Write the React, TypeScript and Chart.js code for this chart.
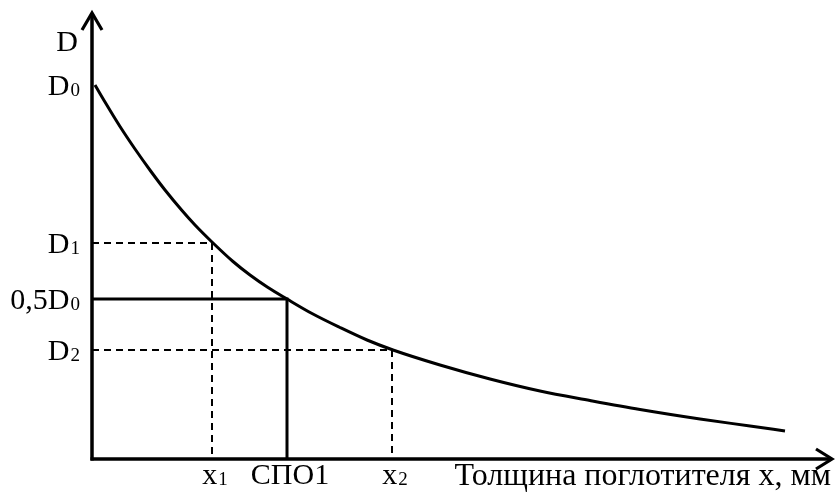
import { useEffect, useRef } from "react";
import { Chart, registerables } from "chart.js";

Chart.register(...registerables);

// Curve (absorber thickness -> D), arbitrary units
const curveX = [3, 13, 28, 43, 59, 73, 90, 103, 121, 141, 158, 176, 195, 220, 248, 275, 301, 348, 398, 448, 498, 548, 608, 658, 693];
const curveY = [374, 357, 332.5, 310, 287.5, 269, 248.5, 234, 216, 197.5, 184, 171.5, 160, 145.5, 131.5, 119, 109, 94, 80, 68, 58.5, 49.5, 40, 33, 28];

// Marked levels / thicknesses
const yTickValues = [374, 216, 160, 109];
const yTickMain = ["D", "D", "0,5D", "D"];
const yTickSub = ["0", "1", "0", "2"];
const xTickValues = [120, 195, 300];
const xTickMain = ["x", "СПО1", "x"];
const xTickSub = ["1", "", "2"];

const axisTitleY = "D";
const axisTitleX = "Толщина поглотителя x, мм";

const X_MAX = 741;
const Y_MAX = 447;

const FONT = "Liberation Serif, Times New Roman, serif";

function drawSub(
  ctx: CanvasRenderingContext2D,
  main: string,
  sub: string,
  x: number,
  y: number,
  align: "left" | "right" | "center"
) {
  ctx.save();
  ctx.textAlign = "left";
  ctx.textBaseline = "alphabetic";
  ctx.fillStyle = "#000";
  ctx.font = `30px ${FONT}`;
  const w1 = ctx.measureText(main).width;
  ctx.font = `19px ${FONT}`;
  const w2 = sub ? ctx.measureText(sub).width + 1 : 0;
  const total = w1 + w2;
  let sx = x;
  if (align === "right") sx = x - total;
  else if (align === "center") sx = x - total / 2;
  ctx.font = `30px ${FONT}`;
  ctx.fillText(main, sx, y);
  if (sub) {
    ctx.font = `19px ${FONT}`;
    ctx.fillText(sub, sx + w1 + 1, y + 1);
  }
  ctx.restore();
}

const axesPlugin = {
  id: "sketchAxes",
  afterDraw(chart: any) {
    const ctx: CanvasRenderingContext2D = chart.ctx;
    const xs = chart.scales.x;
    const ys = chart.scales.y;
    const x0 = xs.getPixelForValue(0);
    const y0 = ys.getPixelForValue(0);
    const top = ys.getPixelForValue(Y_MAX);
    const right = xs.getPixelForValue(X_MAX);
    ctx.save();
    ctx.strokeStyle = "#000";
    ctx.lineWidth = 3.5;
    ctx.lineCap = "butt";
    ctx.lineJoin = "miter";
    // y axis
    ctx.beginPath();
    ctx.moveTo(x0, y0 + 1.5);
    ctx.lineTo(x0, top + 1);
    ctx.stroke();
    // x axis
    ctx.beginPath();
    ctx.moveTo(x0 - 1.5, y0);
    ctx.lineTo(right - 1, y0);
    ctx.stroke();
    // arrow heads
    ctx.lineWidth = 3.2;
    ctx.beginPath();
    ctx.moveTo(x0 - 10, top + 18);
    ctx.lineTo(x0, top + 1);
    ctx.lineTo(x0 + 10, top + 18);
    ctx.stroke();
    ctx.beginPath();
    ctx.moveTo(right - 17, y0 - 10);
    ctx.lineTo(right - 1, y0);
    ctx.lineTo(right - 17, y0 + 10);
    ctx.stroke();
    ctx.restore();

    // y labels
    drawSub(ctx, axisTitleY, "", x0 - 14, top + 39, "right");
    yTickValues.forEach((v, i) => {
      const py = ys.getPixelForValue(v);
      drawSub(ctx, yTickMain[i], yTickSub[i], x0 - 12, py + 10, "right");
    });
    // x labels
    xTickValues.forEach((v, i) => {
      const px = xs.getPixelForValue(v);
      drawSub(ctx, xTickMain[i], xTickSub[i], px + 3, y0 + 25, "center");
    });
    ctx.save();
    ctx.fillStyle = "#000";
    ctx.font = `32px ${FONT}`;
    ctx.textAlign = "right";
    ctx.textBaseline = "alphabetic";
    ctx.fillText(axisTitleX, right - 2, y0 + 26);
    ctx.restore();
  },
};

export default function App() {
  const ref = useRef<HTMLCanvasElement | null>(null);

  useEffect(() => {
    if (!ref.current) return;
    const curve = curveX.map((x, i) => ({ x, y: curveY[i] }));
    const guide = (xv: number, yv: number) => [
      { x: 0, y: yv },
      { x: xv, y: yv },
      { x: xv, y: 0 },
    ];
    const chart = new Chart(ref.current, {
      type: "line",
      data: {
        datasets: [
          {
            data: guide(xTickValues[0], yTickValues[1]),
            borderColor: "#000",
            borderWidth: 2,
            borderDash: [7, 5],
            pointRadius: 0,
            tension: 0,
          },
          {
            data: guide(xTickValues[2], yTickValues[3]),
            borderColor: "#000",
            borderWidth: 2,
            borderDash: [7, 5],
            pointRadius: 0,
            tension: 0,
          },
          {
            data: guide(xTickValues[1], yTickValues[2]),
            borderColor: "#000",
            borderWidth: 3,
            pointRadius: 0,
            tension: 0,
          },
          {
            data: curve,
            borderColor: "#000",
            borderWidth: 3,
            pointRadius: 0,
            cubicInterpolationMode: "monotone",
          },
        ],
      },
      options: {
        animation: false,
        responsive: false,
        devicePixelRatio: 1,
        layout: { padding: { left: 92, top: 12, right: 2, bottom: 33 } },
        plugins: {
          legend: { display: false },
          tooltip: { enabled: false },
        },
        scales: {
          x: { type: "linear", min: 0, max: X_MAX, display: false },
          y: { type: "linear", min: 0, max: Y_MAX, display: false },
        },
      },
      plugins: [axesPlugin],
    } as any);
    return () => chart.destroy();
  }, []);

  return (
    <div style={{ position: "fixed", left: 0, top: 0, width: 835, height: 492, background: "#fff" }}>
      <canvas ref={ref} width={835} height={492} />
    </div>
  );
}
